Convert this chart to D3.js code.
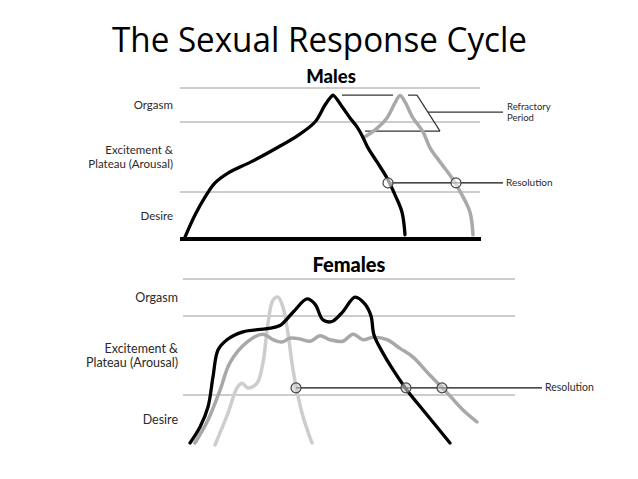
<!DOCTYPE html>
<html><head><meta charset="utf-8">
<script src="https://cdn.jsdelivr.net/npm/d3@7"></script>
<style>body{margin:0;background:#fff}svg{display:block}</style>
</head><body>
<svg id="c" width="638" height="479"></svg>
<script>
const title = "The Sexual Response Cycle";
const phaseLabels = [["Desire"], ["Excitement &", "Plateau (Arousal)"], ["Orgasm"]];
const gridLevels = [1, 2, 3];

// Males: [time, arousal level]
const maleFirst = [[5,0.04],[15,0.51],[25,0.89],[35,1.13],[48,1.27],[71,1.43],[98,1.64],[118,1.81],[135,2.0],[145,2.5],[151,2.74],[153,2.79],[163,2.41],[170,2.12],[177,1.93],[183,1.78],[188,1.63],[197,1.43],[207,1.2],[215,0.94],[222,0.57],[225,0.09]];
const maleSecond = [[185,1.79],[197,1.91],[207,2.12],[215,2.56],[220,2.78],[225,2.59],[233,2.12],[243,1.86],[250,1.63],[260,1.43],[272,1.2],[282,0.94],[290,0.57],[293,0.09]];
const maleResolution = {level: 1.13, points: [208, 276], end: 323};
const refractory = {top: 2.79, bottom: 1.87, topSegs: [[162,213],[228,237]], diagEnd: 260, bottomSeg: [185,260], leader: [248, 323, 2.29]};
const refractoryText = ["Refractory", "Period"];

// Females: [time, arousal level]
const femaleA = [[10,0.04],[20,0.36],[28,0.76],[33,1.23],[38,1.57],[47,1.70],[63,1.80],[87,1.84],[100,1.88],[113,2.1],[127,2.46],[135,2.32],[143,1.95],[152,1.93],[163,2.12],[175,2.51],[185,2.32],[191,2.0],[194,1.76],[203,1.53],[213,1.32],[227,1.06],[243,0.70],[257,0.36],[270,0.04]];
const femaleB = [[15,0.04],[28,0.5],[40,1.06],[50,1.41],[67,1.67],[83,1.77],[93,1.70],[102,1.67],[110,1.72],[120,1.71],[130,1.68],[140,1.75],[150,1.70],[163,1.68],[173,1.77],[183,1.70],[193,1.73],[207,1.70],[220,1.59],[233,1.48],[250,1.25],[267,1.03],[283,0.70],[297,0.46]];
const femaleC = [[35,0.0],[48,0.64],[57,1.09],[62,1.15],[68,1.09],[77,1.15],[83,1.41],[88,1.91],[93,2.43],[98,2.51],[103,2.24],[108,1.78],[113,1.32],[122,0.64],[132,0.04]];
const femaleResolution = {level: 1.09, points: [116, 226, 262], end: 362};

const svg = d3.select("#c");
const labelFont = "Lato, 'Noto Sans', sans-serif";

svg.append("text").attr("x", 112).attr("y", 52)
  .attr("font-family", "'Open Sans', 'Liberation Sans', sans-serif")
  .attr("font-size", 34).attr("fill", "#000")
  .attr("textLength", 415).attr("lengthAdjust", "spacingAndGlyphs")
  .text(title);

function panel(opt) {
  const x = d3.scaleLinear().domain([0, opt.tmax]).range([180, 180 + opt.tmax]);
  const y = d3.scaleLinear().domain([0, 1, 2, 3]).range(opt.yr);
  const g = svg.append("g");
  g.selectAll(".grid").data(gridLevels).join("line")
    .attr("x1", x(opt.g0)).attr("x2", x(opt.g1))
    .attr("y1", d => y(d)).attr("y2", d => y(d))
    .attr("stroke", "#9a9a9a").attr("stroke-width", 1);
  g.append("text").attr("x", opt.hx).attr("y", opt.hy).attr("text-anchor", "middle")
    .attr("font-family", "Lato, sans-serif").attr("font-weight", 900)
    .attr("font-size", opt.hs).text(opt.heading);
  phaseLabels.forEach((lines, i) => {
    const cy = (y(i) + y(i + 1)) / 2;
    lines.forEach((s, j) => {
      g.append("text").attr("text-anchor", "end")
        .attr("font-family", labelFont).attr("font-size", opt.ls).attr("fill", "#2a2a2a")
        .attr("x", opt.lx)
        .attr("y", cy + (j - (lines.length - 1) / 2) * opt.ls * 1.15 + opt.ls * 0.35).text(s);
    });
  });
  return {x, y, g};
}

const line = (x, y) => d3.line().x(d => x(d[0])).y(d => y(d[1])).curve(d3.curveCatmullRom.alpha(0.5));

// ---------- Males ----------
const M = panel({tmax: 300, yr: [239, 192, 122, 88], g0: 0, g1: 300, heading: "Males", hx: 331, hy: 83, hs: 18.5, lx: 173, ls: 11.5});
M.g.append("line").attr("x1", M.x(0)).attr("x2", M.x(301)).attr("y1", M.y(0)).attr("y2", M.y(0))
  .attr("stroke", "#000").attr("stroke-width", 4);
const rb = M.g.append("g").attr("stroke", "#333").attr("stroke-width", 1.2).attr("fill", "none");
refractory.topSegs.forEach(s => rb.append("line").attr("x1", M.x(s[0])).attr("x2", M.x(s[1]))
  .attr("y1", M.y(refractory.top)).attr("y2", M.y(refractory.top)));
rb.append("line").attr("x1", M.x(refractory.topSegs[1][1])).attr("y1", M.y(refractory.top))
  .attr("x2", M.x(refractory.diagEnd)).attr("y2", M.y(refractory.bottom));
rb.append("line").attr("x1", M.x(refractory.bottomSeg[0])).attr("x2", M.x(refractory.bottomSeg[1]))
  .attr("y1", M.y(refractory.bottom)).attr("y2", M.y(refractory.bottom));
rb.append("line").attr("x1", M.x(refractory.leader[0])).attr("x2", M.x(refractory.leader[1]))
  .attr("y1", M.y(refractory.leader[2])).attr("y2", M.y(refractory.leader[2]));
refractoryText.forEach((s, i) => {
  M.g.append("text").attr("font-family", labelFont).attr("font-size", 9.5).attr("fill", "#2a2a2a")
    .attr("x", M.x(refractory.leader[1]) + 4)
    .attr("y", M.y(refractory.leader[2]) - 2 + i * 11).text(s);
});

M.g.append("path").datum(maleSecond).attr("d", line(M.x, M.y)).attr("fill", "none")
  .attr("stroke", "#a9a9a9").attr("stroke-width", 3.5).attr("stroke-linecap", "round").attr("stroke-linejoin", "round");
M.g.append("path").datum(maleFirst).attr("d", line(M.x, M.y)).attr("fill", "none")
  .attr("stroke", "#000").attr("stroke-width", 3.3).attr("stroke-linecap", "round").attr("stroke-linejoin", "round");

function resolution(P, r, fill, fs) {
  P.g.append("line").attr("x1", P.x(r.points[0])).attr("x2", P.x(r.end))
    .attr("y1", P.y(r.level)).attr("y2", P.y(r.level)).attr("stroke", "#111").attr("stroke-width", 1.3);
  P.g.selectAll(".rc").data(r.points).join("circle")
    .attr("cx", d => P.x(d)).attr("cy", P.y(r.level)).attr("r", 5)
    .attr("fill", fill).attr("fill-opacity", 0.6).attr("stroke", "#444").attr("stroke-width", 1.2);
  P.g.append("text").attr("x", P.x(r.end) + 3).attr("y", P.y(r.level) + 3.5)
    .attr("font-family", labelFont).attr("font-size", fs).attr("fill", "#2a2a2a").text("Resolution");
}
resolution(M, maleResolution, "#ffffff", 10);

// ---------- Females ----------
const F = panel({tmax: 340, yr: [445, 395, 316, 279], g0: 3, g1: 335, heading: "Females", hx: 349, hy: 272, hs: 20, lx: 178, ls: 12.5});
F.g.append("path").datum(femaleC).attr("d", line(F.x, F.y)).attr("fill", "none")
  .attr("stroke", "#cdcdcd").attr("stroke-width", 3.5).attr("stroke-linecap", "round").attr("stroke-linejoin", "round");
F.g.append("path").datum(femaleB).attr("d", line(F.x, F.y)).attr("fill", "none")
  .attr("stroke", "#a8a8a8").attr("stroke-width", 3.5).attr("stroke-linecap", "round").attr("stroke-linejoin", "round");
F.g.append("path").datum(femaleA).attr("d", line(F.x, F.y)).attr("fill", "none")
  .attr("stroke", "#000").attr("stroke-width", 3.3).attr("stroke-linecap", "round").attr("stroke-linejoin", "round");
resolution(F, femaleResolution, "#cfcfcf", 10.5);
</script>
</body></html>
